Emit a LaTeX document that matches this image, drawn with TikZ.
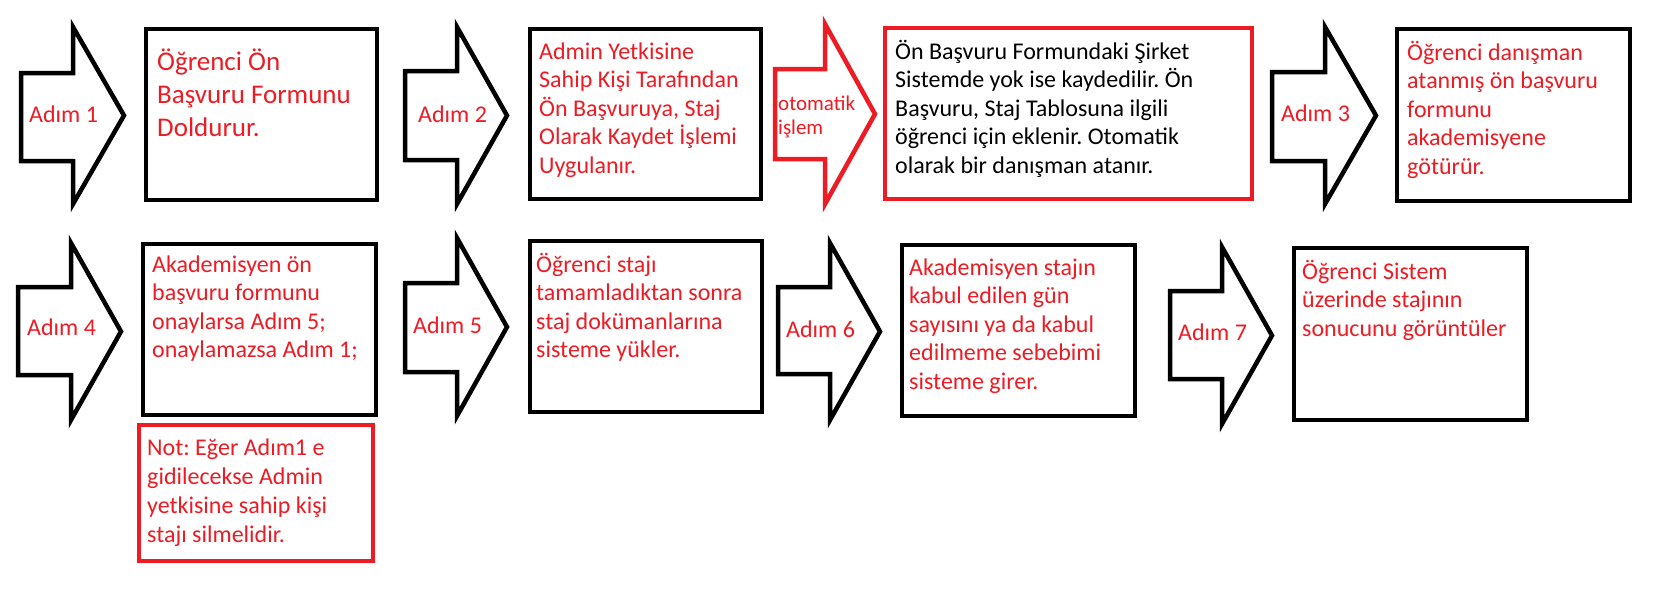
\documentclass[tikz,border=0pt]{standalone}
\usepackage{fontspec}
\setmainfont{Carlito}
\frenchspacing
\definecolor{pred}{RGB}{237,28,36}
\newcommand{\mlines}[2]{\vtop{\baselineskip=#1\lineskiplimit=-1000pt\halign{##\hfil\cr #2\crcr}}}
\newcommand{\barrow}[9]{\draw[#1] (#2,#5) -- (#3,#5) -- (#3,#7) -- (#4,#9) -- (#3,#8) -- (#3,#6) -- (#2,#6) -- cycle;}
\tikzset{
  bbox/.style={draw=black, line width=4.5pt, inner sep=0pt, outer sep=0pt, anchor=north west},
  rbox/.style={bbox, draw=pred},
  barr/.style={draw=black, line width=4.5pt, line join=miter, fill=white},
  rarr/.style={barr, draw=pred},
  rtxt/.style={text=pred, inner sep=0pt, anchor=base west, font=\fontsize{24pt}{28.7pt}\selectfont},
  ktxt/.style={rtxt, text=black},
  smtxt/.style={rtxt, font=\fontsize{21pt}{24pt}\selectfont},
  bigtxt/.style={rtxt, font=\fontsize{27pt}{33pt}\selectfont}
}
\begin{document}
\begin{tikzpicture}[x=1pt,y=-1pt]
\fill[white] (0,0) rectangle (1662,590);
\useasboundingbox (0,0) rectangle (1662,590);
% block arrows
\barrow{barr}{21}{73}{124}{73}{161}{27}{204}{115.5}
\barrow{barr}{405}{457}{507}{71}{160}{27}{204}{115.5}
\barrow{rarr}{775}{825}{875}{69}{159}{24}{204}{114}
\barrow{barr}{1272}{1325}{1376}{72}{161}{27}{204}{115.5}
\barrow{barr}{18}{71}{121}{287}{375}{243}{420}{331.5}
\barrow{barr}{405}{457}{507}{283}{372}{238}{416}{327}
\barrow{barr}{778}{830}{880}{287}{374}{243}{420}{331.5}
\barrow{barr}{1170}{1222}{1272}{291}{379}{247}{424}{335.5}
% boxes
\node[bbox, minimum width=231pt, minimum height=171pt] (b1) at (146,29) {};
\node[bbox, minimum width=231pt, minimum height=170pt] (b2) at (530,29) {};
\node[rbox, minimum width=367pt, minimum height=171pt] (b3) at (885,28) {};
\node[bbox, minimum width=233pt, minimum height=172pt] (b4) at (1397,29) {};
\node[bbox, minimum width=233pt, minimum height=171pt] (b5) at (143,244) {};
\node[rbox, minimum width=234pt, minimum height=136pt] (note) at (139,425) {};
\node[bbox, minimum width=232pt, minimum height=171pt] (b6) at (530,241) {};
\node[bbox, minimum width=233pt, minimum height=171pt] (b7) at (902,245) {};
\node[bbox, minimum width=233pt, minimum height=172pt] (b8) at (1294,248) {};
% arrow labels
\node[rtxt] (a1) at (29,122) {Adım 1};
\node[rtxt] (a2) at (418,122) {Adım 2};
\node[smtxt] (auto) at (778,110) {\mlines{24pt}{otomatik\cr işlem}};
\node[rtxt] (a3) at (1281,121) {Adım 3};
\node[rtxt] (a4) at (27,335) {Adım 4};
\node[rtxt] (a5) at (413,333) {Adım 5};
\node[rtxt] (a6) at (786,337) {Adım 6};
\node[rtxt] (a7) at (1178,340) {Adım 7};
% box texts
\node[bigtxt] (t1) at (157,70) {\mlines{33pt}{Öğrenci Ön\cr Başvuru Formunu\cr Doldurur.}};
\node[rtxt] (t2) at (539,59) {\mlines{28.6pt}{Admin Yetkisine\cr Sahip Kişi Tarafından\cr Ön Başvuruya, Staj\cr Olarak Kaydet İşlemi\cr Uygulanır.}};
\node[ktxt] (t3) at (895,59) {\mlines{28.6pt}{Ön Başvuru Formundaki Şirket\cr Sistemde yok ise kaydedilir. Ön\cr Başvuru, Staj Tablosuna ilgili\cr öğrenci için eklenir. Otomatik\cr olarak bir danışman atanır.}};
\node[rtxt] (t4) at (1407,60) {\mlines{28.6pt}{Öğrenci danışman\cr atanmış ön başvuru\cr formunu\cr akademisyene\cr götürür.}};
\node[rtxt] (t5) at (152,272) {\mlines{28.6pt}{Akademisyen ön\cr başvuru formunu\cr onaylarsa Adım 5;\cr onaylamazsa Adım 1;}};
\node[rtxt] (tn) at (147,455) {\mlines{29pt}{Not: Eğer Adım1 e\cr gidilecekse Admin\cr yetkisine sahip kişi\cr stajı silmelidir.}};
\node[rtxt] (t6) at (536,272) {\mlines{28.6pt}{Öğrenci stajı\cr tamamladıktan sonra\cr staj dokümanlarına\cr sisteme yükler.}};
\node[rtxt] (t7) at (909,275) {\mlines{28.6pt}{Akademisyen stajın\cr kabul edilen gün\cr sayısını ya da kabul\cr edilmeme sebebimi\cr sisteme girer.}};
\node[rtxt] (t8) at (1302,279) {\mlines{28.6pt}{Öğrenci Sistem\cr üzerinde stajının\cr sonucunu görüntüler}};
\end{tikzpicture}
\end{document}
